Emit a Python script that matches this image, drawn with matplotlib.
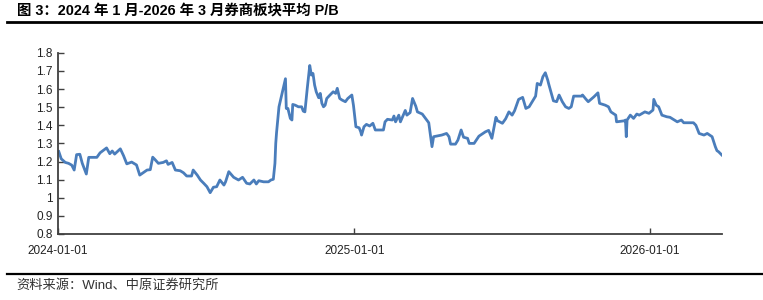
import matplotlib
matplotlib.use("Agg")
import matplotlib.pyplot as plt
import matplotlib.dates as mdates
from matplotlib.ticker import FuncFormatter
import pandas as pd

plt.rcParams['font.family'] = ['Liberation Sans', 'Noto Sans CJK SC', 'DejaVu Sans']

# values
dates = [
    "2024-01-02", "2024-01-05", "2024-01-10", "2024-01-14", "2024-01-18", "2024-01-21",
    "2024-01-24", "2024-01-28", "2024-01-31", "2024-02-05", "2024-02-08", "2024-02-18",
    "2024-02-22", "2024-03-01", "2024-03-05", "2024-03-08", "2024-03-11", "2024-03-18",
    "2024-03-22", "2024-03-26", "2024-04-01", "2024-04-07", "2024-04-11", "2024-04-20",
    "2024-04-24", "2024-04-27", "2024-04-30", "2024-05-04", "2024-05-10", "2024-05-14",
    "2024-05-16", "2024-05-21", "2024-05-25", "2024-05-31", "2024-06-04", "2024-06-08",
    "2024-06-14", "2024-06-16", "2024-06-21", "2024-06-25", "2024-06-29", "2024-07-03",
    "2024-07-07", "2024-07-11", "2024-07-15", "2024-07-19", "2024-07-24", "2024-07-26",
    "2024-07-30", "2024-08-05", "2024-08-11", "2024-08-16", "2024-08-21", "2024-08-25",
    "2024-08-30", "2024-09-02", "2024-09-05", "2024-09-11", "2024-09-17", "2024-09-20",
    "2024-09-23", "2024-09-25", "2024-09-26", "2024-09-27", "2024-09-30", "2024-10-08",
    "2024-10-09", "2024-10-11", "2024-10-14", "2024-10-16", "2024-10-17", "2024-10-20",
    "2024-10-24", "2024-10-28", "2024-10-30", "2024-11-01", "2024-11-04", "2024-11-07",
    "2024-11-09", "2024-11-11", "2024-11-13", "2024-11-15", "2024-11-18", "2024-11-20",
    "2024-11-22", "2024-11-24", "2024-11-26", "2024-11-28", "2024-12-02", "2024-12-06",
    "2024-12-09", "2024-12-11", "2024-12-14", "2024-12-17", "2024-12-21", "2024-12-24",
    "2024-12-29", "2024-12-31", "2025-01-03", "2025-01-07", "2025-01-09", "2025-01-10",
    "2025-01-13", "2025-01-16", "2025-01-20", "2025-01-24", "2025-01-27", "2025-02-06",
    "2025-02-08", "2025-02-11", "2025-02-17", "2025-02-19", "2025-02-21", "2025-02-25",
    "2025-02-27", "2025-03-05", "2025-03-07", "2025-03-11", "2025-03-14", "2025-03-18",
    "2025-03-20", "2025-03-26", "2025-03-30", "2025-04-03", "2025-04-07", "2025-04-09",
    "2025-04-19", "2025-04-25", "2025-04-28", "2025-04-30", "2025-05-06", "2025-05-09",
    "2025-05-13", "2025-05-16", "2025-05-21", "2025-05-23", "2025-05-29", "2025-06-04",
    "2025-06-09", "2025-06-12", "2025-06-16", "2025-06-20", "2025-06-25", "2025-06-27",
    "2025-07-03", "2025-07-07", "2025-07-11", "2025-07-15", "2025-07-18", "2025-07-23",
    "2025-07-28", "2025-08-01", "2025-08-05", "2025-08-08", "2025-08-13", "2025-08-15",
    "2025-08-19", "2025-08-22", "2025-08-25", "2025-08-28", "2025-08-29", "2025-09-02",
    "2025-09-04", "2025-09-08", "2025-09-11", "2025-09-15", "2025-09-19", "2025-09-23",
    "2025-09-26", "2025-09-29", "2025-10-09", "2025-10-10", "2025-10-14", "2025-10-17",
    "2025-10-24", "2025-10-29", "2025-10-31", "2025-11-07", "2025-11-11", "2025-11-14",
    "2025-11-20", "2025-11-21", "2025-12-01", "2025-12-02", "2025-12-03", "2025-12-04",
    "2025-12-08", "2025-12-12", "2025-12-16", "2025-12-19", "2025-12-26", "2025-12-31",
    "2026-01-05", "2026-01-06", "2026-01-09", "2026-01-12", "2026-01-16", "2026-01-22",
    "2026-01-26", "2026-01-30", "2026-02-04", "2026-02-09", "2026-02-12", "2026-02-24",
    "2026-02-27", "2026-03-03", "2026-03-09", "2026-03-13", "2026-03-19", "2026-03-23",
    "2026-03-25", "2026-03-27", "2026-03-31",
]
pb = [
    1.255, 1.215, 1.195, 1.19, 1.18, 1.153,
    1.238, 1.24, 1.19, 1.131, 1.223, 1.223,
    1.248, 1.275, 1.243, 1.258, 1.241, 1.27,
    1.232, 1.187, 1.197, 1.181, 1.125, 1.153,
    1.155, 1.224, 1.21, 1.19, 1.195, 1.204,
    1.184, 1.195, 1.153, 1.149, 1.138, 1.12,
    1.12, 1.153, 1.125, 1.098, 1.08, 1.061,
    1.028, 1.058, 1.061, 1.098, 1.07, 1.088,
    1.144, 1.113, 1.098, 1.113, 1.08, 1.076,
    1.098, 1.076, 1.094, 1.088, 1.088, 1.098,
    1.102, 1.19, 1.30, 1.36, 1.502, 1.657,
    1.493, 1.493, 1.438, 1.429, 1.515, 1.511,
    1.502, 1.502, 1.478, 1.474, 1.607, 1.73,
    1.677, 1.686, 1.622, 1.585, 1.552, 1.576,
    1.521, 1.502, 1.511, 1.548, 1.567, 1.585,
    1.576, 1.604, 1.548, 1.539, 1.53, 1.548,
    1.567, 1.51, 1.392, 1.386, 1.364, 1.346,
    1.392, 1.405, 1.396, 1.411, 1.374, 1.374,
    1.419, 1.433, 1.429, 1.451, 1.419, 1.456,
    1.419, 1.482, 1.456, 1.47, 1.548, 1.505,
    1.474, 1.462, 1.438, 1.414, 1.282, 1.337,
    1.346, 1.355, 1.337, 1.296, 1.296, 1.318,
    1.374, 1.334, 1.328, 1.30, 1.30, 1.34,
    1.355, 1.364, 1.372, 1.328, 1.444, 1.425,
    1.411, 1.436, 1.474, 1.456, 1.48, 1.543,
    1.554, 1.493, 1.502, 1.524, 1.561, 1.631,
    1.622, 1.668, 1.69, 1.649, 1.631, 1.567,
    1.535, 1.53, 1.567, 1.53, 1.502, 1.493,
    1.502, 1.561, 1.561, 1.567, 1.545, 1.53,
    1.557, 1.579, 1.521, 1.511, 1.502, 1.474,
    1.456, 1.419, 1.425, 1.429, 1.337, 1.429,
    1.456, 1.438, 1.462, 1.456, 1.474, 1.466,
    1.484, 1.543, 1.511, 1.502, 1.456, 1.447,
    1.444, 1.433, 1.419, 1.429, 1.414, 1.414,
    1.40, 1.355, 1.346, 1.355, 1.337, 1.282,
    1.26, 1.254, 1.236,
]
xtick_dates = ["2024-01-01", "2025-01-01", "2026-01-01"]
title = "图 3：2024 年 1 月-2026 年 3 月券商板块平均 P/B"
source = "资料来源：Wind、中原证券研究所"

x = pd.to_datetime(dates)

fig = plt.figure(figsize=(7.63, 3.0), dpi=100)
ax = fig.add_axes([0.076, 0.22, 0.87, 0.604])
ax.plot(x, pb, color="#4a7dbb", lw=2.0, solid_joinstyle="round")

ax.set_ylim(0.8, 1.8)
ax.set_yticks([0.8, 0.9, 1.0, 1.1, 1.2, 1.3, 1.4, 1.5, 1.6, 1.7, 1.8])
ax.yaxis.set_major_formatter(FuncFormatter(lambda v, p: f"{v:g}"))
ax.set_xlim(pd.Timestamp("2024-01-01"), x[-1])
ax.set_xticks(pd.to_datetime(xtick_dates))
ax.xaxis.set_major_formatter(mdates.DateFormatter("%Y-%m-%d"))

for s in ["top", "right"]:
    ax.spines[s].set_visible(False)
for s in ["left", "bottom"]:
    ax.spines[s].set_color("#404040")
    ax.spines[s].set_linewidth(1.3)
ax.tick_params(axis="both", direction="in", length=4, width=1, color="#404040",
               labelsize=8.5, labelcolor="#222222")
ax.tick_params(axis="x", pad=8)
ax.tick_params(axis="y", pad=4)

fig.text(0.022, 0.965, title, fontsize=10.4, fontweight="bold", va="center", ha="left")
fig.add_artist(plt.Line2D([0.009, 1.0], [0.927, 0.927], color="black", lw=2))
fig.add_artist(plt.Line2D([0.009, 1.0], [0.087, 0.087], color="black", lw=1.6))
fig.text(0.021, 0.05, source, fontsize=9.5, va="center", ha="left", color="#333333")

fig.savefig("out.png", dpi=100)
